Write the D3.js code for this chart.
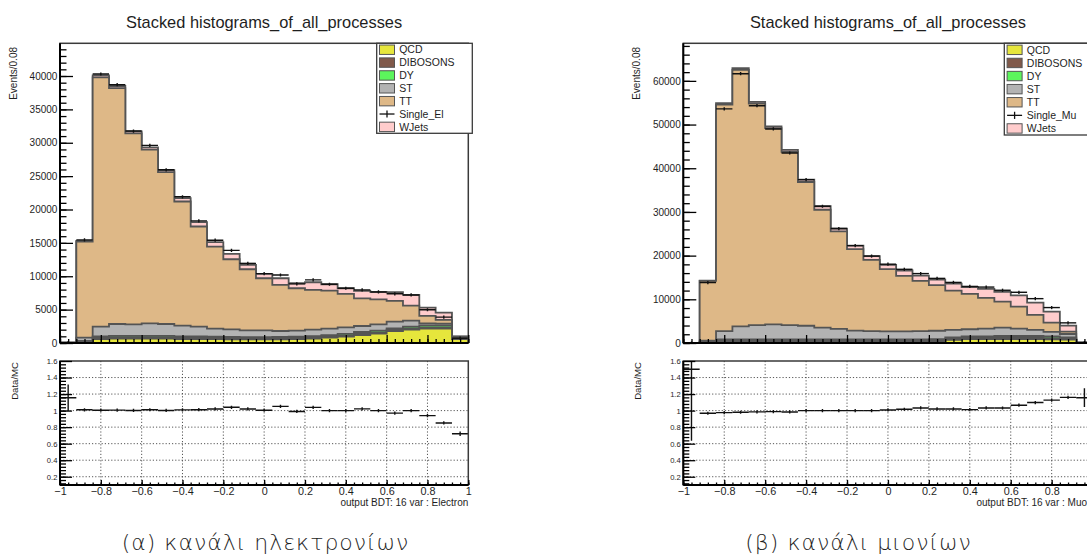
<!DOCTYPE html>
<html>
<head>
<meta charset="utf-8">
<script src="https://cdn.jsdelivr.net/npm/d3@7"></script>
<style>
  html, body { margin: 0; padding: 0; background: #fff; overflow: hidden; }
  svg { display: block; }
  text { font-family: "Liberation Sans", Arial, Helvetica, sans-serif; fill: #1e1e1e; }
</style>
</head>
<body>
<svg id="fig" width="1087" height="559"></svg>
<script>
// ---- BDT output binning: 25 bins of width 0.08 on [-1, 1] ----
const binEdges = [-1, -0.92, -0.84, -0.76, -0.68, -0.6, -0.52, -0.44, -0.36, -0.28, -0.2,
  -0.12, -0.04, 0.04, 0.12, 0.2, 0.28, 0.36, 0.44, 0.52, 0.6, 0.68, 0.76, 0.84, 0.92, 1];

// ---- Electron channel (events per bin) ----
const qcdEl   = [20, 150, 600, 650, 650, 650, 650, 600, 600, 580, 560, 550, 550, 560, 600, 650, 800, 950, 1200, 1400, 1800, 2000, 2150, 2150, 600];
const dibEl   = [5, 80, 200, 220, 220, 220, 210, 200, 190, 180, 170, 160, 160, 160, 170, 180, 190, 200, 200, 200, 200, 200, 200, 200, 50];
const dyEl    = [5, 70, 200, 200, 200, 200, 200, 200, 190, 180, 170, 170, 170, 180, 180, 190, 200, 220, 250, 250, 200, 250, 300, 300, 80];
const stEl    = [5, 500, 1450, 1780, 1730, 1880, 1790, 1600, 1470, 1210, 1150, 1020, 1020, 900, 900, 980, 960, 980, 900, 950, 1000, 900, 300, 250, 100];
const ttEl    = [8, 14400, 37350, 35330, 28600, 26030, 22750, 18600, 15000, 12300, 10500, 9150, 7800, 6900, 6350, 5950, 5700, 5000, 4150, 3750, 3100, 2250, 1100, 550, 120];
const wjetsEl = [2, 100, 300, 320, 300, 320, 300, 500, 650, 650, 800, 650, 650, 1000, 750, 1150, 950, 850, 1100, 1100, 1300, 1600, 1250, 1100, 50];
const dataEl  = [52, 15450, 40300, 38700, 31750, 29600, 25950, 21900, 18300, 15400, 13880, 11930, 10400, 10190, 8860, 9460, 8800, 8200, 7960, 7650, 7370, 7200, 4980, 3870, 720];

// ---- Muon channel (events per bin) ----
const qcdMu   = [0.3, 100, 350, 350, 350, 350, 350, 350, 350, 350, 350, 350, 350, 350, 350, 350, 700, 900, 900, 900, 900, 900, 850, 800, 30];
const dibMu   = [0.2, 60, 180, 200, 200, 200, 200, 200, 200, 200, 200, 200, 200, 200, 200, 230, 250, 250, 250, 250, 250, 250, 250, 200, 5];
const dyMu    = [0.3, 90, 300, 300, 300, 300, 300, 300, 300, 300, 300, 300, 300, 300, 300, 320, 350, 350, 350, 450, 450, 450, 400, 300, 10];
const stMu    = [0.5, 300, 1870, 2950, 3250, 3400, 3250, 3100, 2650, 2400, 2000, 1850, 1800, 1800, 1850, 1900, 1700, 1650, 1800, 1900, 1700, 1400, 1050, 760, 15];
const ttMu    = [0.6, 13650, 51850, 58700, 50720, 44950, 39650, 32900, 27000, 22280, 18630, 16340, 14250, 12720, 11500, 10430, 9000, 8090, 7020, 5980, 5030, 3420, 2110, 540, 20];
const wjetsMu = [0.1, 100, 350, 400, 380, 400, 450, 550, 800, 670, 820, 860, 1000, 1230, 1200, 1270, 1600, 1560, 2080, 2220, 2570, 2830, 2540, 1375, 10];
const dataMu  = [3, 13840, 53580, 61640, 54320, 49000, 43490, 37400, 31300, 26200, 22300, 19900, 18040, 16870, 15890, 14790, 13870, 12950, 12800, 12070, 11610, 10150, 8110, 4610, 104];

// ---- Process names and fill colours (stack order, bottom to top) ----
const processNames  = ["QCD", "DIBOSONS", "DY", "ST", "TT", "WJets"];
const processColors = ["#e6e63c", "#80594a", "#5cf55c", "#b3b3b3", "#deb887", "#ffcccc"];

// ---- Axis ticks ----
const xTicks       = [-1, -0.8, -0.6, -0.4, -0.2, 0, 0.2, 0.4, 0.6, 0.8, 1];
const yTicksEl     = [0, 5000, 10000, 15000, 20000, 25000, 30000, 35000, 40000];
const yTicksMu     = [0, 10000, 20000, 30000, 40000, 50000, 60000];
const ratioTicks   = [0.2, 0.4, 0.6, 0.8, 1, 1.2, 1.4, 1.6];
const ratioGridY   = [0.2, 0.4, 0.6, 0.8, 1, 1.2, 1.4];

const svg = d3.select("#fig");
svg.append("rect").attr("width", 1087).attr("height", 559).attr("fill", "#fff");

const fmtX = d => (d === 0 ? "0" : String(d).replace("-", "\u2212"));

function drawChannel(cfg) {
  const g = svg.append("g");
  const x = d3.scaleLinear().domain([-1, 1]).range([cfg.left, cfg.right]);
  const y = d3.scaleLinear().domain([0, cfg.yMax]).range([cfg.bottom, cfg.top]);
  const yr = d3.scaleLinear().domain([0.1, 1.6]).range([cfg.rBottom, cfg.rTop]);

  const clipTop = "clip-top-" + cfg.id, clipRatio = "clip-ratio-" + cfg.id;
  const defs = g.append("defs");
  defs.append("clipPath").attr("id", clipTop).append("rect")
    .attr("x", cfg.left).attr("y", cfg.top).attr("width", cfg.right - cfg.left).attr("height", cfg.bottom - cfg.top);
  defs.append("clipPath").attr("id", clipRatio).append("rect")
    .attr("x", cfg.left).attr("y", cfg.rTop).attr("width", cfg.right - cfg.left).attr("height", cfg.rBottom - cfg.rTop);

  // title
  g.append("text").attr("x", (cfg.left + cfg.right) / 2).attr("y", 27.5)
    .attr("text-anchor", "middle").attr("font-size", 16.4).text("Stacked histograms_of_all_processes");

  // ---- stacked histograms ----
  const comps = cfg.components;
  const nb = binEdges.length - 1;
  const cumul = [];
  let run = new Array(nb).fill(0);
  comps.forEach(c => { run = run.map((v, i) => v + c[i]); cumul.push(run.slice()); });
  const total = cumul[cumul.length - 1];

  const stepPts = vals => vals.flatMap((v, i) => [[binEdges[i], v], [binEdges[i + 1], v]]);
  const area = d3.area().x(d => x(d[0])).y0(y(0)).y1(d => y(d[1]));
  const outline = d3.line().x(d => x(d[0])).y(d => y(d[1]));

  const stackG = g.append("g").attr("clip-path", `url(#${clipTop})`);
  for (let i = cumul.length - 1; i >= 0; i--) {
    const pts = stepPts(cumul[i]);
    stackG.append("path").attr("d", area(pts)).attr("fill", processColors[i]);
    stackG.append("path")
      .attr("d", outline([[binEdges[0], 0], ...pts, [binEdges[nb], 0]]))
      .attr("fill", "none").attr("stroke", "#545454").attr("stroke-width", 1.8)
      .attr("stroke-linejoin", "miter");
  }

  // data points
  const dataG = g.append("g").attr("clip-path", `url(#${clipTop})`)
    .attr("stroke", "#111").attr("stroke-width", 1.4);
  cfg.data.forEach((v, i) => {
    const xc = x((binEdges[i] + binEdges[i + 1]) / 2);
    dataG.append("line").attr("x1", x(binEdges[i])).attr("x2", x(binEdges[i + 1]))
      .attr("y1", y(v)).attr("y2", y(v));
    const e = Math.sqrt(v);
    const half = Math.max(Math.abs(y(v) - y(v + e)), 1.6);
    dataG.append("line").attr("x1", xc).attr("x2", xc)
      .attr("y1", y(v) - half).attr("y2", y(v) + half);
  });

  // ---- upper frame and axes ----
  g.append("rect").attr("x", cfg.left).attr("y", cfg.top)
    .attr("width", cfg.right - cfg.left).attr("height", cfg.bottom - cfg.top)
    .attr("fill", "none").attr("stroke", "#3a3a3a").attr("stroke-width", 1.5);

  const yMinor = d3.range(0, cfg.yMax, cfg.yMinorStep);
  g.append("g").attr("transform", `translate(${cfg.left},0)`)
    .call(d3.axisLeft(y).tickValues(yMinor).tickSizeInner(-6.5).tickSizeOuter(0).tickFormat(""))
    .call(a => a.select(".domain").remove());
  g.append("g").attr("transform", `translate(${cfg.left},0)`)
    .call(d3.axisLeft(y).tickValues(cfg.yTicks).tickSizeInner(-13).tickSizeOuter(0).tickPadding(2.6).tickFormat(d3.format("d")))
    .call(a => a.select(".domain").remove())
    .call(a => a.selectAll("text").attr("font-size", 10).attr("font-family", null).attr("fill", "#1e1e1e"));

  const xMinor = d3.range(-1, 1.0001, 0.04);
  g.append("g").attr("transform", `translate(0,${cfg.bottom})`)
    .call(d3.axisBottom(x).tickValues(xMinor).tickSizeInner(-4).tickSizeOuter(0).tickFormat(""))
    .call(a => a.select(".domain").remove());
  g.append("g").attr("transform", `translate(0,${cfg.bottom})`)
    .call(d3.axisBottom(x).tickValues(xTicks).tickSizeInner(-8).tickSizeOuter(0).tickFormat(""))
    .call(a => a.select(".domain").remove());
  g.selectAll(".tick line").attr("stroke", "#000").attr("stroke-width", 1.3);
  g.append("line").attr("x1", cfg.left).attr("x2", cfg.left).attr("y1", cfg.top).attr("y2", cfg.bottom)
    .attr("stroke", "#000").attr("stroke-width", 2);
  g.append("line").attr("x1", cfg.left).attr("x2", cfg.right).attr("y1", cfg.bottom).attr("y2", cfg.bottom)
    .attr("stroke", "#000").attr("stroke-width", 2);

  g.append("text").attr("transform", `translate(${cfg.left - 43.5},47) rotate(-90)`)
    .attr("text-anchor", "end").attr("font-size", 10).text("Events/0.08");

  // ---- legend ----
  const lg = g.append("g");
  const lx = cfg.legendLeft, ly = cfg.top, lw = cfg.right + 4 - cfg.legendLeft, lh = cfg.legendBottom - cfg.top;
  lg.append("rect").attr("x", lx).attr("y", ly).attr("width", lw).attr("height", lh)
    .attr("fill", "#fff").attr("stroke", "#3a3a3a").attr("stroke-width", 1.3);
  const legendRows = [
    { label: "QCD", color: processColors[0] },
    { label: "DIBOSONS", color: processColors[1] },
    { label: "DY", color: processColors[2] },
    { label: "ST", color: processColors[3] },
    { label: "TT", color: processColors[4] },
    { label: cfg.dataLabel, color: null },
    { label: "WJets", color: processColors[5] }
  ];
  const rowH = lh / legendRows.length;
  legendRows.forEach((r, i) => {
    const cy = ly + rowH * (i + 0.5);
    if (r.color) {
      lg.append("rect").attr("x", lx + 2.8).attr("y", cy - 4.7).attr("width", 15).attr("height", 9.4)
        .attr("fill", r.color).attr("stroke", "#555").attr("stroke-width", 1);
    } else {
      lg.append("line").attr("x1", lx + 2.8).attr("x2", lx + 17.8).attr("y1", cy).attr("y2", cy)
        .attr("stroke", "#111").attr("stroke-width", 1.3);
      lg.append("line").attr("x1", lx + 10.3).attr("x2", lx + 10.3).attr("y1", cy - 3.6).attr("y2", cy + 3.6)
        .attr("stroke", "#111").attr("stroke-width", 1.3);
    }
    lg.append("text").attr("x", lx + 22.5).attr("y", cy + 3.7).attr("font-size", 10.5).text(r.label);
  });

  // ---- ratio panel ----
  const rg = g.append("g");
  const gridG = rg.append("g").attr("stroke", "#444").attr("stroke-width", 0.9).attr("stroke-dasharray", "1.2,2");
  xTicks.slice(1, -1).forEach(t => gridG.append("line")
    .attr("x1", x(t)).attr("x2", x(t)).attr("y1", cfg.rTop).attr("y2", cfg.rBottom));
  ratioGridY.forEach(t => gridG.append("line")
    .attr("x1", cfg.left).attr("x2", cfg.right).attr("y1", yr(t)).attr("y2", yr(t)));

  const ratioG = rg.append("g").attr("clip-path", `url(#${clipRatio})`)
    .attr("stroke", "#111").attr("stroke-width", 1.4);
  cfg.data.forEach((v, i) => {
    const r = v / total[i];
    const e = Math.sqrt(v) / total[i];
    const xc = x((binEdges[i] + binEdges[i + 1]) / 2);
    ratioG.append("line").attr("x1", x(binEdges[i])).attr("x2", x(binEdges[i + 1]))
      .attr("y1", yr(r)).attr("y2", yr(r));
    const half = Math.max(Math.abs(yr(r) - yr(r + e)), 1.6);
    ratioG.append("line").attr("x1", xc).attr("x2", xc)
      .attr("y1", yr(r) - half).attr("y2", yr(r) + half);
  });

  rg.append("rect").attr("x", cfg.left).attr("y", cfg.rTop)
    .attr("width", cfg.right - cfg.left).attr("height", cfg.rBottom - cfg.rTop)
    .attr("fill", "none").attr("stroke", "#3a3a3a").attr("stroke-width", 1.5);

  const rMinor = d3.range(0.12, 1.6, 0.04);
  rg.append("g").attr("transform", `translate(${cfg.left},0)`)
    .call(d3.axisLeft(yr).tickValues(rMinor).tickSizeInner(-6).tickSizeOuter(0).tickFormat(""))
    .call(a => a.select(".domain").remove());
  rg.append("g").attr("transform", `translate(${cfg.left},0)`)
    .call(d3.axisLeft(yr).tickValues(ratioTicks).tickSizeInner(-12).tickSizeOuter(0).tickPadding(2.6).tickFormat(d => String(d)))
    .call(a => a.select(".domain").remove())
    .call(a => a.selectAll("text").attr("font-size", 7.6).attr("font-family", null).attr("fill", "#1e1e1e"));
  rg.append("g").attr("transform", `translate(0,${cfg.rBottom})`)
    .call(d3.axisBottom(x).tickValues(xMinor).tickSizeInner(-2.5).tickSizeOuter(0).tickFormat(""))
    .call(a => a.select(".domain").remove());
  rg.append("g").attr("transform", `translate(0,${cfg.rBottom})`)
    .call(d3.axisBottom(x).tickValues(xTicks).tickSizeInner(-5).tickSizeOuter(0).tickPadding(2).tickFormat(fmtX))
    .call(a => a.select(".domain").remove())
    .call(a => a.selectAll("text").attr("font-size", 10.8).attr("font-family", null).attr("fill", "#1e1e1e"));
  rg.selectAll(".tick line").attr("stroke", "#000").attr("stroke-width", 1.3);
  rg.append("line").attr("x1", cfg.left).attr("x2", cfg.left).attr("y1", cfg.rTop).attr("y2", cfg.rBottom)
    .attr("stroke", "#000").attr("stroke-width", 2);
  rg.append("line").attr("x1", cfg.left).attr("x2", cfg.right).attr("y1", cfg.rBottom).attr("y2", cfg.rBottom)
    .attr("stroke", "#000").attr("stroke-width", 2);

  rg.append("text").attr("transform", `translate(${cfg.left - 42},362) rotate(-90)`)
    .attr("text-anchor", "end").attr("font-size", 9.6).text("Data/MC");
  rg.append("text").attr("x", cfg.right).attr("y", 505.5)
    .attr("text-anchor", "end").attr("font-size", 10).text(cfg.xTitle);

  // caption
  g.append("text").attr("x", cfg.captionX).attr("y", 550)
    .attr("text-anchor", "middle").attr("font-size", 22)
    .style("font-family", "'DejaVu Sans', sans-serif").style("font-weight", 300)
    .style("letter-spacing", "1px")
    .attr("fill", "#111").text(cfg.caption);
}

drawChannel({
  id: "el", left: 60, right: 468.3, top: 43.3, bottom: 343, rTop: 361, rBottom: 485,
  yMax: 44900, yTicks: yTicksEl, yMinorStep: 1000,
  components: [qcdEl, dibEl, dyEl, stEl, ttEl, wjetsEl], data: dataEl,
  dataLabel: "Single_El", legendLeft: 376.7, legendBottom: 133.3,
  xTitle: "output BDT: 16 var : Electron",
  caption: "(\u03b1) \u03ba\u03b1\u03bd\u03ac\u03bb\u03b9 \u03b7\u03bb\u03b5\u03ba\u03c4\u03c1\u03bf\u03bd\u03af\u03c9\u03bd", captionX: 265.5
});

drawChannel({
  id: "mu", left: 683.3, right: 1092.6, top: 43.3, bottom: 343, rTop: 361, rBottom: 485,
  yMax: 68600, yTicks: yTicksMu, yMinorStep: 2000,
  components: [qcdMu, dibMu, dyMu, stMu, ttMu, wjetsMu], data: dataMu,
  dataLabel: "Single_Mu", legendLeft: 1004.3, legendBottom: 135,
  xTitle: "output BDT: 16 var : Muon",
  caption: "(\u03b2) \u03ba\u03b1\u03bd\u03ac\u03bb\u03b9 \u03bc\u03b9\u03bf\u03bd\u03af\u03c9\u03bd", captionX: 858.5
});
</script>
</body>
</html>
